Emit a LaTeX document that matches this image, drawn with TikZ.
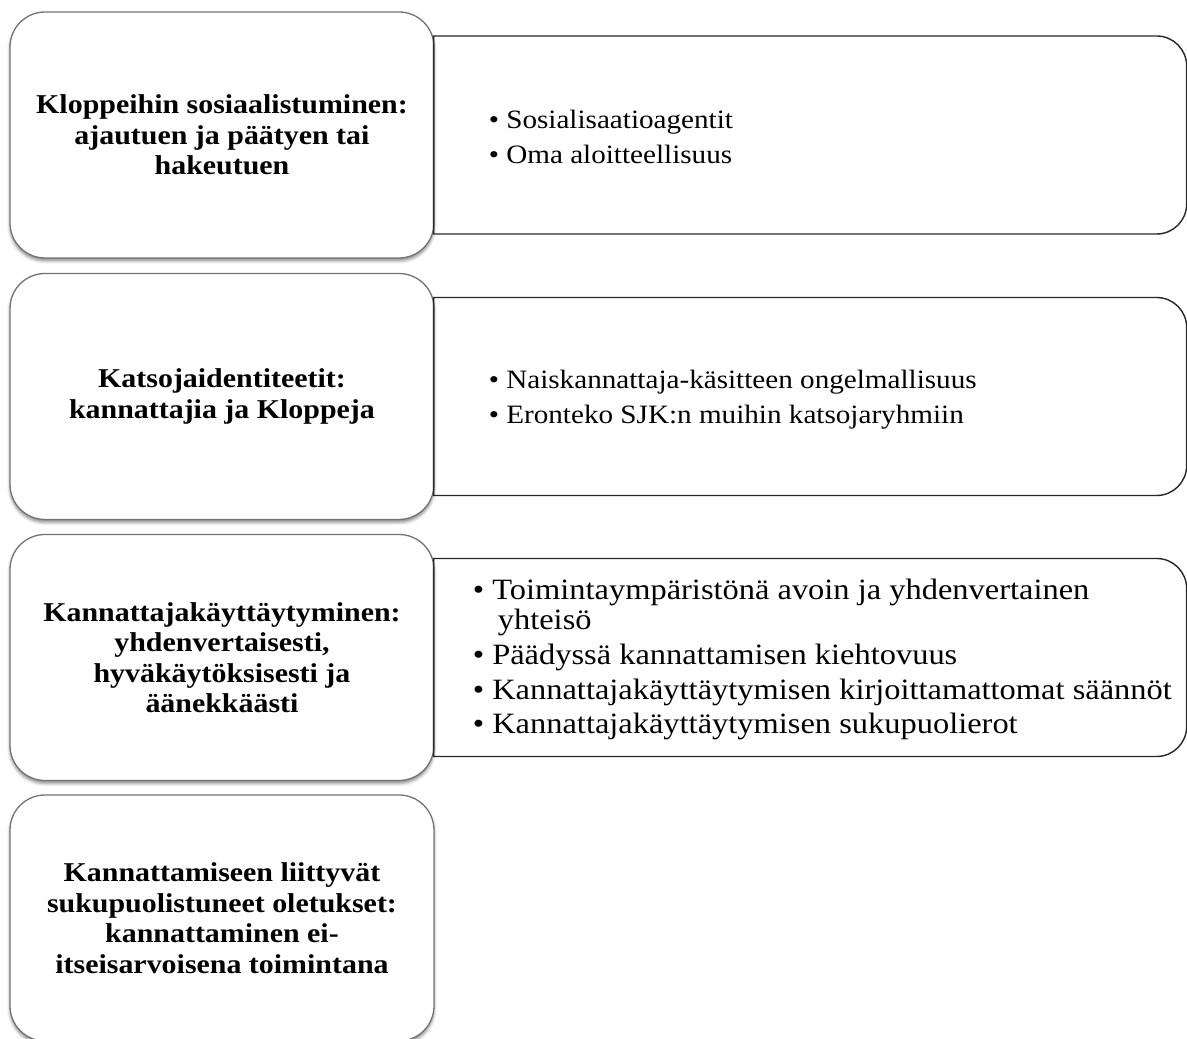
\documentclass[tikz,border=0pt]{standalone}
\usepackage{fontspec}
\setmainfont{Liberation Serif}[FakeStretch=1.1]
\usetikzlibrary{positioning, shadows.blur}

\tikzset{
        teema/.style={draw=black!55, line width=1.3pt, fill=white, rounded corners=35pt,
                minimum width=424pt, minimum height=246pt, align=center,
                font=\fontsize{27.2}{30.5}\selectfont\bfseries,
                blur shadow={shadow xshift=0pt, shadow yshift=-3pt, shadow blur radius=3pt, shadow opacity=45}},
        kehys/.style={minimum width=753pt, minimum height=198pt, inner sep=0pt, outer sep=0pt},
        reuna/.style={draw=black!85, line width=1.4pt},
        lista/.style={align=left, inner sep=0pt, font=\fontsize{26.5}{30}\selectfont},
}

% reunaviiva: vasen puoli suora, oikeat kulmat pyoristetty
\newcommand{\oikeareuna}[1]{%
        \draw[reuna] (#1.north west) -- ([xshift=-30pt]#1.north east)
                arc[start angle=90, end angle=0, radius=30pt] -- ([yshift=30pt]#1.south east)
                arc[start angle=0, end angle=-90, radius=30pt] -- (#1.south west) -- cycle;}

\begin{document}
\begin{tikzpicture}[x=1pt, y=1pt]
        \useasboundingbox (0,0) rectangle (1187,1039);

        \node[teema] (k1) at (222,904) {Kloppeihin sosiaalistuminen:\\ajautuen ja päätyen tai\\hakeutuen};
        \node[teema] (k2) at (222,642.5) {Katsojaidentiteetit:\\kannattajia ja Kloppeja};
        \node[teema] (k3) at (222,381.5) {Kannattajakäyttäytyminen:\\yhdenvertaisesti,\\hyväkäytöksisesti ja\\äänekkäästi};
        \node[teema] (k4) at (222,121) {Kannattamiseen liittyvät\\sukupuolistuneet oletukset:\\kannattaminen ei-\\itseisarvoisena toimintana};

        \node[kehys, right=-1pt of k1] (t1) {};
        \node[kehys, right=-1pt of k2] (t2) {};
        \node[kehys, right=-1pt of k3] (t3) {};

        \oikeareuna{t1}
        \oikeareuna{t2}
        \oikeareuna{t3}

        \node[lista, anchor=west] (l1) at ([xshift=55pt,yshift=-2pt]t1.west)
                {• Sosialisaatioagentit\\[5pt]• Oma aloitteellisuus};
        \node[lista, anchor=west] (l2) at ([xshift=55pt,yshift=-3pt]t2.west)
                {• Naiskannattaja-käsitteen ongelmallisuus\\[5pt]• Eronteko SJK:n muihin katsojaryhmiin};
        \node[lista, anchor=west, font=\fontsize{29.5}{30}\selectfont] (l3) at ([xshift=39pt,yshift=-2pt]t3.west)
                {• Toimintaympäristönä avoin ja yhdenvertainen\\\hspace*{25pt}yhteisö\\[5pt]%
                 • Päädyssä kannattamisen kiehtovuus\\[4.5pt]%
                 • Kannattajakäyttäytymisen kirjoittamattomat säännöt\\[4.5pt]%
                 • Kannattajakäyttäytymisen sukupuolierot};
\end{tikzpicture}
\end{document}
